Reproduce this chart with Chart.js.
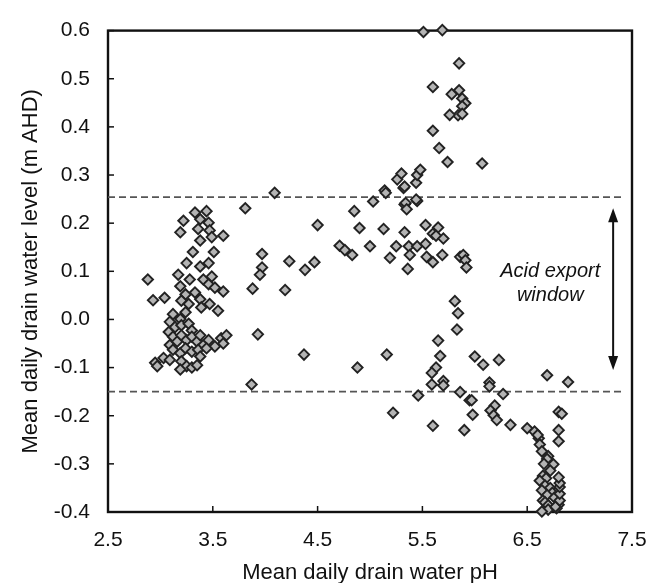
<!DOCTYPE html>
<html><head><meta charset="utf-8">
<script src="https://cdn.jsdelivr.net/npm/chart.js@4.4.0/dist/chart.umd.min.js"></script>
<style>html,body{margin:0;padding:0;background:#fff;}#wrap{width:665px;height:583px;}</style>
</head><body>
<div id="wrap"><canvas id="c" width="665" height="583"></canvas></div>
<script>
const xTicks = [2.5, 3.5, 4.5, 5.5, 6.5, 7.5];
const yTicks = [-0.4, -0.3, -0.2, -0.1, 0.0, 0.1, 0.2, 0.3, 0.4, 0.5, 0.6];
const thresholds = [0.254, -0.150];
const thresholdSpan = [2.5, 7.43];
const arrowX = 7.32;
const arrowEnds = [0.231, -0.105];
const noteLines = ['Acid export', 'window'];
const notePos = [6.72, 0.100, 0.050];
const xTitle = 'Mean daily drain water pH';
const yTitle = 'Mean daily drain water level (m AHD)';

// [pH, level]
const observations = [
  [3.33,0.222],[3.44,0.225],[3.22,0.205],[3.38,0.208],[3.46,0.201],
  [3.19,0.181],[3.36,0.188],[3.47,0.185],[3.60,0.174],[3.38,0.164],[3.49,0.171],
  [3.31,0.140],[3.51,0.140],[3.25,0.117],[3.38,0.110],[3.46,0.117],
  [2.88,0.083],[3.17,0.093],[3.28,0.083],[3.41,0.083],[3.49,0.089],[3.46,0.073],[3.52,0.066],
  [3.19,0.069],[3.24,0.052],[3.20,0.039],[3.33,0.056],[3.38,0.042],[3.60,0.058],
  [2.93,0.040],[3.04,0.045],[3.27,0.032],[3.39,0.025],[3.47,0.032],[3.55,0.018],
  [3.12,0.011],[3.19,0.001],[3.24,0.015],[3.09,-0.005],[3.14,-0.016],[3.20,-0.012],[3.27,-0.009],[3.30,-0.023],
  [3.08,-0.026],[3.12,-0.036],[3.09,-0.053],[3.16,-0.046],[3.20,-0.033],[3.25,-0.043],[3.30,-0.036],[3.35,-0.046],[3.38,-0.033],
  [3.41,-0.053],[3.46,-0.043],[3.52,-0.056],[3.58,-0.039],[3.63,-0.033],[3.60,-0.050],
  [3.12,-0.063],[3.19,-0.070],[3.24,-0.060],[3.30,-0.067],[3.36,-0.063],[3.44,-0.060],[3.38,-0.077],
  [3.03,-0.080],[2.95,-0.090],[2.97,-0.097],[3.09,-0.084],
  [3.20,-0.087],[3.25,-0.097],[3.30,-0.100],[3.19,-0.104],[3.35,-0.095],
  [3.81,0.231],[3.97,0.136],[3.97,0.108],[3.95,0.093],[3.88,0.064],[3.93,-0.031],[3.87,-0.135],[4.09,0.263],
  [4.19,0.061],[4.23,0.121],[4.38,0.103],[4.47,0.119],[4.50,0.196],[4.37,-0.073],
  [4.71,0.153],[4.76,0.144],[4.83,0.134],[4.85,0.225],[4.90,0.190],[4.88,-0.100],
  [5.00,0.152],[5.03,0.245],[5.13,0.188],[5.14,0.268],[5.15,0.263],[5.16,-0.073],[5.19,0.128],[5.22,-0.194],
  [5.25,0.152],[5.26,0.291],[5.30,0.303],[5.32,0.273],[5.33,0.276],[5.33,0.239],[5.34,0.242],[5.35,0.229],
  [5.33,0.181],[5.37,0.152],[5.38,0.134],[5.36,0.105],
  [5.45,0.152],[5.44,0.284],[5.45,0.300],[5.48,0.311],[5.45,0.246],[5.44,0.249],[5.46,-0.158],
  [5.51,0.597],[5.69,0.601],[5.85,0.532],[5.60,0.483],
  [5.78,0.468],[5.85,0.476],[5.88,0.459],[5.91,0.449],[5.88,0.443],[5.84,0.424],[5.76,0.425],[5.88,0.427],
  [5.60,0.392],[5.66,0.356],[5.74,0.327],[6.07,0.324],
  [5.53,0.196],[5.65,0.191],[5.60,0.178],[5.63,0.174],[5.70,0.168],[5.53,0.157],
  [5.54,0.130],[5.60,0.119],[5.69,0.134],[5.86,0.130],[5.89,0.134],[5.91,0.123],[5.92,0.108],
  [5.81,0.038],[5.84,0.013],[5.83,-0.021],[5.65,-0.044],[5.67,-0.076],
  [5.63,-0.100],[5.59,-0.111],[5.70,-0.128],[5.59,-0.135],[5.70,-0.137],
  [5.86,-0.151],[5.95,-0.168],[5.97,-0.168],[5.98,-0.198],[5.60,-0.221],[5.90,-0.230],
  [6.00,-0.077],[6.08,-0.094],[6.23,-0.084],[6.14,-0.131],[6.14,-0.139],[6.27,-0.155],
  [6.19,-0.179],[6.15,-0.189],[6.18,-0.199],[6.21,-0.209],[6.34,-0.219],
  [6.69,-0.116],[6.89,-0.130],
  [6.50,-0.226],[6.57,-0.233],[6.61,-0.247],[6.60,-0.240],[6.62,-0.260],[6.64,-0.274],[6.70,-0.284],[6.69,-0.290],
  [6.66,-0.300],[6.75,-0.301],[6.72,-0.314],[6.65,-0.325],[6.68,-0.330],[6.62,-0.335],[6.67,-0.345],[6.72,-0.350],
  [6.64,-0.355],[6.74,-0.360],[6.69,-0.365],[6.76,-0.370],[6.65,-0.376],[6.67,-0.380],[6.70,-0.386],[6.80,-0.385],
  [6.70,-0.395],[6.64,-0.399],[6.78,-0.392],[6.77,-0.389],
  [6.81,-0.376],[6.81,-0.362],[6.81,-0.348],[6.81,-0.340],[6.80,-0.328],
  [6.80,-0.192],[6.83,-0.196],[6.80,-0.230],[6.80,-0.253]
];

const FONT = '"Liberation Sans", Arial, Helvetica, sans-serif';

const decor = {
  id: 'decor',
  beforeDatasetsDraw(chart) {
    const {ctx, chartArea: a, scales: {x, y}} = chart;
    ctx.save();
    ctx.strokeStyle = '#111';
    ctx.lineWidth = 1.5;
    y.ticks.forEach(t => {
      const py = y.getPixelForValue(t.value);
      ctx.beginPath(); ctx.moveTo(a.left, py); ctx.lineTo(a.left + 6, py); ctx.stroke();
    });
    x.ticks.forEach(t => {
      const px = x.getPixelForValue(t.value);
      ctx.beginPath(); ctx.moveTo(px, a.bottom); ctx.lineTo(px, a.bottom - 6); ctx.stroke();
    });
    ctx.lineWidth = 2.4;
    ctx.strokeRect(a.left, a.top, a.right - a.left, a.bottom - a.top);
    ctx.restore();
  },
  afterDatasetsDraw(chart) {
    const {ctx, scales: {x, y}} = chart;
    ctx.save();
    const ax = x.getPixelForValue(arrowX);
    const t = y.getPixelForValue(arrowEnds[0]);
    const b = y.getPixelForValue(arrowEnds[1]);
    ctx.strokeStyle = '#111'; ctx.fillStyle = '#111'; ctx.lineWidth = 2;
    ctx.beginPath(); ctx.moveTo(ax, t + 8); ctx.lineTo(ax, b - 8); ctx.stroke();
    ctx.beginPath(); ctx.moveTo(ax, t); ctx.lineTo(ax - 5, t + 14); ctx.lineTo(ax + 5, t + 14); ctx.closePath(); ctx.fill();
    ctx.beginPath(); ctx.moveTo(ax, b); ctx.lineTo(ax - 5, b - 14); ctx.lineTo(ax + 5, b - 14); ctx.closePath(); ctx.fill();
    ctx.font = 'italic 20px ' + FONT;
    ctx.textAlign = 'center'; ctx.textBaseline = 'middle'; ctx.fillStyle = '#111';
    const nx = x.getPixelForValue(notePos[0]);
    ctx.fillText(noteLines[0], nx, y.getPixelForValue(notePos[1]));
    ctx.fillText(noteLines[1], nx, y.getPixelForValue(notePos[2]));
    ctx.restore();
  }
};

const lineDs = thresholds.map(v => ({
  type: 'line',
  data: thresholdSpan.map(px => ({x: px, y: v})),
  borderColor: '#555', borderWidth: 1.6, borderDash: [7, 4],
  pointRadius: 0, fill: false, order: 2
}));

new Chart(document.getElementById('c'), {
  type: 'scatter',
  data: {
    datasets: [
      {
        data: observations.map(p => ({x: p[0], y: p[1]})),
        pointStyle: 'rectRot', pointRadius: 5.2, pointHoverRadius: 5.2,
        backgroundColor: '#b4b4b4', borderColor: '#222', pointBorderWidth: 1.9, borderWidth: 1.9,
        clip: false, order: 0
      },
      ...lineDs
    ]
  },
  options: {
    responsive: false, animation: false, devicePixelRatio: 1,
    layout: {padding: {top: 21, right: 33, left: 0, bottom: 0}},
    plugins: {legend: {display: false}, tooltip: {enabled: false}},
    scales: {
      x: {
        type: 'linear', min: 2.5, max: 7.5,
        grid: {display: false, drawTicks: false}, border: {display: false},
        afterBuildTicks(s) { s.ticks = xTicks.map(v => ({value: v})); },
        afterFit(s) { s.height = 71; },
        ticks: {padding: 16, color: '#111', font: {family: FONT, size: 21}, autoSkip: false, maxRotation: 0,
          callback: v => Number(v).toFixed(1)},
        title: {display: true, text: xTitle, color: '#111', font: {family: FONT, size: 22, lineHeight: 1},
          padding: {top: 0, bottom: -1}}
      },
      y: {
        type: 'linear', min: -0.4, max: 0.6,
        grid: {display: false, drawTicks: false}, border: {display: false},
        afterBuildTicks(s) { s.ticks = yTicks.map(v => ({value: v})); },
        afterFit(s) { s.width = 108; },
        ticks: {padding: 18, color: '#111', font: {family: FONT, size: 21}, autoSkip: false,
          callback: v => Number(v).toFixed(1)},
        title: {display: true, text: yTitle, color: '#111', font: {family: FONT, size: 22, lineHeight: 1},
          padding: {top: 20, bottom: 0}}
      }
    }
  },
  plugins: [decor]
});
</script>
</body></html>
